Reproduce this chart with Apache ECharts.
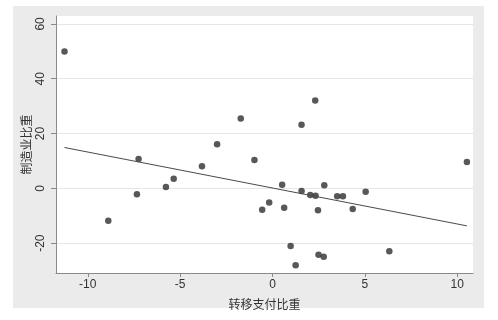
<!DOCTYPE html>
<html>
<head>
<meta charset="utf-8">
<script src="https://cdn.jsdelivr.net/npm/echarts@6/dist/echarts.min.js"></script>
<style>
  html, body { margin: 0; padding: 0; background: #ffffff; }
  #chart { width: 498px; height: 320px; }
</style>
</head>
<body>
<div id="chart"></div>
<script>
// 转移支付比重 (x) vs 制造业比重 (y), one point per province
const xVals = [-11.26, -7.25, -7.34, -8.89, -5.77, -5.35, -3.82, -3.0, -1.72, -0.98,
  2.31, 1.57, 10.52, 0.52, 1.57, 2.04, 2.33, 2.8, 3.5, 3.81,
  5.04, -0.18, -0.56, 0.63, 2.46, 4.34, 0.98, 2.49, 2.77, 1.25, 6.32];
const yVals = [49.9, 10.7, -2.2, -11.8, 0.5, 3.5, 8.1, 16.1, 25.5, 10.3,
  32.1, 23.2, 9.6, 1.3, -1.0, -2.4, -2.7, 1.1, -2.9, -2.9,
  -1.2, -5.2, -7.8, -7.1, -8.0, -7.5, -21.0, -24.2, -25.0, -28.1, -23.0];

// fitted line end points
const fitX = [-11.26, 10.52];
const fitY = [14.9, -13.7];

const xTicks = [-10, -5, 0, 5, 10];
const yTicks = [-20, 0, 20, 40, 60];

const chart = echarts.init(document.getElementById('chart'));

const labelFont = '"Liberation Sans", "Noto Sans CJK SC", sans-serif';
const axisGray = '#8a8a8a';

const option = {
  animation: false,
  backgroundColor: '#ffffff',
  graphic: [{
    type: 'rect',
    z: -10,
    shape: { x: 13, y: 6, width: 471, height: 302 },
    style: { fill: '#ebebeb' }
  }],
  grid: {
    left: 56, top: 16, right: 25, bottom: 47,
    show: true,
    backgroundColor: '#ffffff',
    borderWidth: 0
  },
  xAxis: {
    type: 'value',
    min: -11.72,
    max: 10.85,
    name: '转移支付比重',
    nameLocation: 'middle',
    nameGap: 27,
    nameTextStyle: { color: '#333', fontSize: 12, fontFamily: labelFont },
    axisLine: { show: true, onZero: false, lineStyle: { color: axisGray, width: 1 } },
    axisTick: { show: true, length: 4, lineStyle: { color: axisGray }, customValues: xTicks },
    axisLabel: { color: '#333', fontSize: 12, fontFamily: labelFont, margin: 6, customValues: xTicks },
    splitLine: { show: false }
  },
  yAxis: {
    type: 'value',
    min: -30.9,
    max: 62.9,
    name: '制造业比重',
    nameLocation: 'middle',
    nameRotate: 90,
    nameGap: 22,
    nameMoveOverlap: false,
    nameTextStyle: { color: '#333', fontSize: 12, fontFamily: labelFont },
    axisLine: { show: true, onZero: false, lineStyle: { color: axisGray, width: 1 } },
    axisTick: { show: true, length: 5, lineStyle: { color: axisGray }, customValues: yTicks },
    axisLabel: { color: '#333', fontSize: 12, fontFamily: labelFont, rotate: 90, margin: 9, customValues: yTicks },
    splitLine: { show: true, lineStyle: { color: '#e6e6e6', width: 1 } }
  },
  series: [
    {
      name: 'points',
      type: 'scatter',
      symbol: 'circle',
      symbolSize: 6.5,
      itemStyle: { color: '#2e2e2e' },
      data: xVals.map((x, i) => [x, yVals[i]])
    },
    {
      name: 'fit',
      type: 'line',
      showSymbol: false,
      symbol: 'none',
      lineStyle: { color: '#4a4a4a', width: 1 },
      data: fitX.map((x, i) => [x, fitY[i]])
    }
  ]
};

chart.setOption(option);
</script>
</body>
</html>
